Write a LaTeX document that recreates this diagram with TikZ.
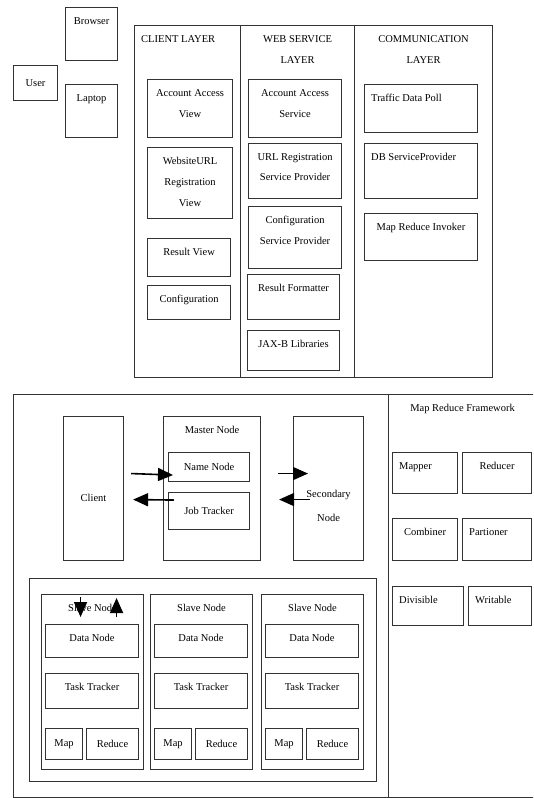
\documentclass[tikz,border=0pt]{standalone}
\usepackage{fontspec}
\setmainfont{Liberation Serif}
\usetikzlibrary{calc,arrows.meta,positioning}
\tikzset{
  blk/.style={draw=black!80,line width=1.1pt,anchor=north west,inner sep=0pt,font=\fontsize{10.5}{12}\selectfont},
  txt/.style={inner sep=0pt,align=center,font=\fontsize{10.5}{21}\selectfont},
  lbl/.style={txt,anchor=north,yshift=-10pt},
  lbw/.style={lbl,anchor=north west,xshift=7pt},
  ar/.style={-{Triangle[length=15pt,width=13pt]},line width=1.6pt,black}
}
\begin{document}
\begin{tikzpicture}[x=1pt,y=-1pt]
\clip (0,0) rectangle (533,798);
\fill[white] (0,0) rectangle (533,798);
% user side
\node[blk,minimum width=44,minimum height=35] (user) at (13,65) {User};
\node[blk,minimum width=52,minimum height=53,label={[lbl]north:Browser}] (browser) at (65,7) {};
\node[blk,minimum width=52,minimum height=53,label={[lbl]north:Laptop}] (laptop) at (65,84) {};
% layers
\node[blk,minimum width=106,minimum height=352,label={[lbw]north west:CLIENT LAYER}] (clientlayer) at (134,25) {};
\node[blk,minimum width=114,minimum height=352,label={[lbl]north:WEB SERVICE\\LAYER}] (weblayer) at (240,25) {};
\node[blk,minimum width=138,minimum height=352,label={[lbl]north:COMMUNICATION\\LAYER}] (commlayer) at (354,25) {};
\node[blk,minimum width=85,minimum height=58,label={[lbl]north:Account Access\\View}] (accview) at (147,79) {};
\node[blk,minimum width=85,minimum height=71,label={[lbl]north:WebsiteURL\\Registration\\View}] (urlview) at (147,147) {};
\node[blk,minimum width=83,minimum height=38,label={[lbl]north:Result View}] (resview) at (147,238) {};
\node[blk,minimum width=83,minimum height=34,label={[lbl]north:Configuration}] (confview) at (147,285) {};
\node[blk,minimum width=93,minimum height=58,label={[lbl]north:Account Access\\Service}] (accsvc) at (248,79) {};
\node[blk,minimum width=93,minimum height=55,label={[lbl,font=\fontsize{10.5}{20}\selectfont]north:URL Registration\\Service Provider}] (urlsvc) at (248,143) {};
\node[blk,minimum width=93,minimum height=62,label={[lbl]north:Configuration\\Service Provider}] (confsvc) at (248,206) {};
\node[blk,minimum width=92,minimum height=45,label={[lbl]north:Result Formatter}] (formatter) at (247,274) {};
\node[blk,minimum width=92,minimum height=40,label={[lbl]north:JAX-B Libraries}] (jaxb) at (247,330) {};
\node[blk,minimum width=113,minimum height=48,label={[lbw]north west:Traffic Data Poll}] (traffic) at (364,84) {};
\node[blk,minimum width=113,minimum height=55,label={[lbw]north west:DB ServiceProvider}] (dbsvc) at (364,143) {};
\node[blk,minimum width=113,minimum height=47,label={[lbl]north:Map Reduce Invoker}] (invoker) at (364,213) {};
% hadoop cluster
\node[blk,minimum width=375,minimum height=403] (hadoop) at (13,394) {};
\node[blk,minimum width=160,minimum height=403,label={[lbl,xshift=-6pt]north:Map Reduce Framework}] (framework) at (388,394) {};
\node[blk,minimum width=60,minimum height=144,label={[txt,anchor=center,yshift=-9pt]center:Client}] (client) at (63,416) {};
\node[blk,minimum width=97,minimum height=144,label={[lbl]north:Master Node}] (master) at (163,416) {};
\node[blk,minimum width=81,minimum height=29] (namenode) at (168,452) {Name Node};
\node[blk,minimum width=81,minimum height=37] (jobtracker) at (168,492) {Job Tracker};
\node[blk,minimum width=70,minimum height=144,label={[txt,anchor=center,yshift=-17pt,font=\fontsize{10.5}{24}\selectfont]center:Secondary\\Node}] (secondary) at (293,416) {};
\draw[ar] ($(client.east)+(7,-15)$) -- ($(namenode.west)+(5,8)$);
\draw[ar] ($(jobtracker.west)+(6,-11)$) -- ($(client.east)+(9,11)$);
\draw[ar] ($(master.east)+(17,-15)$) -- ($(secondary.west)+(15,-15)$);
\draw[ar] ($(secondary.west)+(17,11)$) -- ($(master.east)+(18,11)$);
% slaves
\node[blk,minimum width=347,minimum height=203] (slaves) at (29,578) {};
\node[blk,minimum width=102,minimum height=175,label={[lbl]north:Slave Node}] (slaveA) at (41,594) {};
\node[blk,minimum width=93,minimum height=33,label={[lbl]north:Data Node}] (dataA) at (45,624) {};
\node[blk,minimum width=93,minimum height=35,label={[lbl]north:Task Tracker}] (taskA) at (45,673) {};
\node[blk,minimum width=37,minimum height=31] (mapA) at (45,728) {Map};
\node[blk,minimum width=52,minimum height=31] (redA) at (86,728) {Reduce};
\node[blk,minimum width=102,minimum height=175,label={[lbl]north:Slave Node}] (slaveB) at (150,594) {};
\node[blk,minimum width=93,minimum height=33,label={[lbl]north:Data Node}] (dataB) at (154,624) {};
\node[blk,minimum width=93,minimum height=35,label={[lbl]north:Task Tracker}] (taskB) at (154,673) {};
\node[blk,minimum width=37,minimum height=31] (mapB) at (154,728) {Map};
\node[blk,minimum width=52,minimum height=31] (redB) at (195,728) {Reduce};
\node[blk,minimum width=102,minimum height=175,label={[lbl]north:Slave Node}] (slaveC) at (261,594) {};
\node[blk,minimum width=93,minimum height=33,label={[lbl]north:Data Node}] (dataC) at (265,624) {};
\node[blk,minimum width=93,minimum height=35,label={[lbl]north:Task Tracker}] (taskC) at (265,673) {};
\node[blk,minimum width=37,minimum height=31] (mapC) at (265,728) {Map};
\node[blk,minimum width=52,minimum height=31] (redC) at (306,728) {Reduce};
\draw[ar] ($(slaveA.north)+(-12,3)$) -- ($(slaveA.north)+(-12,23)$);
\draw[ar] ($(slaveA.north)+(24,23)$) -- ($(slaveA.north)+(24,4)$);
% framework parts
\node[blk,minimum width=65,minimum height=41,label={[lbw]north west:Mapper}] (mapper) at (392,452) {};
\node[blk,minimum width=69,minimum height=41,label={[lbl]north:Reducer}] (reducer) at (462,452) {};
\node[blk,minimum width=65,minimum height=42,label={[lbl]north:Combiner}] (combiner) at (392,518) {};
\node[blk,minimum width=69,minimum height=42,label={[lbw]north west:Partioner}] (partioner) at (462,518) {};
\node[blk,minimum width=71,minimum height=39,label={[lbw]north west:Divisible}] (divisible) at (392,586) {};
\node[blk,minimum width=63,minimum height=39,label={[lbw]north west:Writable}] (writable) at (468,586) {};
\end{tikzpicture}
\end{document}
